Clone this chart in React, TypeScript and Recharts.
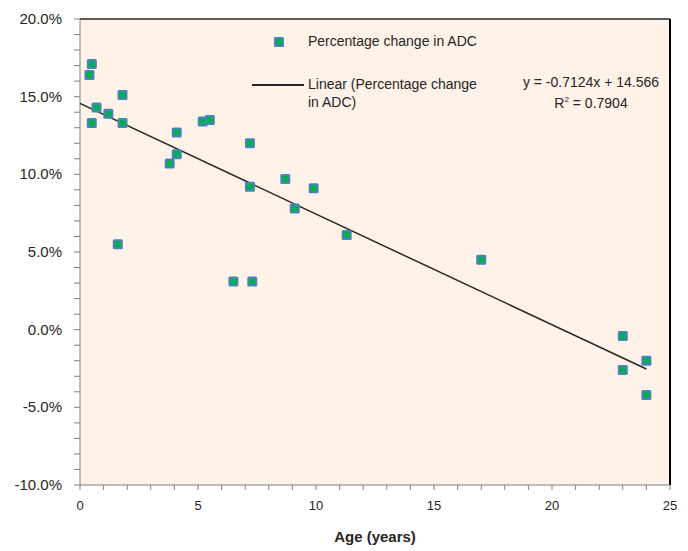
import React from 'react';
import { ScatterChart, Scatter, XAxis, YAxis, CartesianGrid, ReferenceLine } from 'recharts';

// age in years and % change of ADC
const ages = [0.4, 0.5, 0.7, 0.5, 1.2, 1.8, 1.8, 1.6, 3.8, 4.1, 4.1, 5.2, 5.5, 7.2, 7.2, 6.5, 7.3, 8.7, 9.1, 9.9, 11.3, 17.0, 23, 23, 24, 24];
const adcChange = [16.4, 17.1, 14.3, 13.3, 13.9, 15.1, 13.3, 5.5, 10.7, 12.7, 11.3, 13.4, 13.5, 12.0, 9.2, 3.1, 3.1, 9.7, 7.8, 9.1, 6.1, 4.5, -0.4, -2.6, -2.0, -4.2];

// linear fit shown in the chart: y = -0.7124x + 14.566
const trendX = [0, 24];
const trendY = [14.566, -2.532];

const xMajor = [0, 5, 10, 15, 20, 25];
const yMajor = [-10, -5, 0, 5, 10, 15, 20];
const xTicks = Array.from({ length: 26 }, (_, i) => i);
const yTicks = Array.from({ length: 31 }, (_, i) => i - 10);

const points = ages.map((x, i) => ({ x, y: adcChange[i] }));
const trend = trendX.map((x, i) => ({ x, y: trendY[i] }));

const font = '"Liberation Sans", Arial, sans-serif';
const textColor = '#262626';

const Marker = (props: any) => {
  const { cx, cy } = props;
  if (cx == null || cy == null) return null;
  return (
    <g>
      <rect x={cx - 5} y={cy - 5} width={10} height={10} rx={1.5} fill="#4F81BD" />
      <rect x={cx - 3} y={cy - 3} width={6} height={6} fill="#00B050" />
    </g>
  );
};

const YTick = (props: any) => {
  const { x, y, payload } = props;
  if (!yMajor.includes(payload.value)) return null;
  return (
    <text x={x} y={y} dy={5} textAnchor="end" fontSize={15} fill={textColor} fontFamily={font}>
      {payload.value.toFixed(1)}%
    </text>
  );
};

const XTick = (props: any) => {
  const { x, y, payload } = props;
  if (!xMajor.includes(payload.value)) return null;
  return (
    <text x={x} y={y} dy={14} textAnchor="middle" fontSize={13} fill={textColor} fontFamily={font}>
      {payload.value}
    </text>
  );
};

const LegendBox = () => (
  <div style={{ position: 'absolute', left: 0, top: 0, width: 688, height: 120, fontFamily: font, fontSize: 14, color: textColor, pointerEvents: 'none' }}>
    <div style={{ position: 'absolute', left: 274, top: 37, width: 10, height: 10, background: '#4F81BD', borderRadius: 1.5 }}>
      <div style={{ position: 'absolute', left: 2, top: 2, width: 6, height: 6, background: '#00B050' }} />
    </div>
    <div style={{ position: 'absolute', left: 308, top: 33, whiteSpace: 'nowrap' }}>Percentage change in ADC</div>
    <div style={{ position: 'absolute', left: 252, top: 84, width: 52, height: 1.5, background: '#262626' }} />
    <div style={{ position: 'absolute', left: 308, top: 75, lineHeight: '18px', whiteSpace: 'nowrap' }}>
      Linear (Percentage change<br />in ADC)
    </div>
    <div style={{ position: 'absolute', left: 491, width: 200, top: 73, lineHeight: '18px', textAlign: 'center', whiteSpace: 'nowrap' }}>
      y = -0.7124x + 14.566<br />R<sup style={{ fontSize: 8 }}>2</sup> = 0.7904
    </div>
  </div>
);

export default function App() {
  return (
    <div style={{ position: 'absolute', left: 0, top: 0, width: 688, height: 551, background: '#fff' }}>
      <ScatterChart width={688} height={551} margin={{ top: 19, right: 18, bottom: 0, left: 0 }}>
        <CartesianGrid horizontal={false} vertical={false} fill="#FEF2E9" />
        <XAxis
          type="number"
          dataKey="x"
          domain={[0, 25]}
          ticks={xTicks}
          interval={0}
          tick={<XTick />}
          tickSize={5}
          tickMargin={6}
          stroke="#808080"
          height={66}
          label={{ value: 'Age (years)', position: 'insideBottom', offset: 9, fontSize: 15, fontWeight: 'bold', fill: textColor, fontFamily: font }}
        />
        <YAxis
          type="number"
          dataKey="y"
          domain={[-10, 20]}
          ticks={yTicks}
          interval={0}
          tick={<YTick />}
          tickSize={6}
          tickMargin={12}
          stroke="#808080"
          width={80}
        />
        <ReferenceLine y={20} stroke="#595959" strokeWidth={2} />
        <ReferenceLine x={25} stroke="#000" strokeWidth={2} />
        <Scatter data={trend} line={{ stroke: '#262626', strokeWidth: 1.5 }} shape={() => null} isAnimationActive={false} />
        <Scatter data={points} shape={<Marker />} isAnimationActive={false} />
      </ScatterChart>
      <LegendBox />
    </div>
  );
}
